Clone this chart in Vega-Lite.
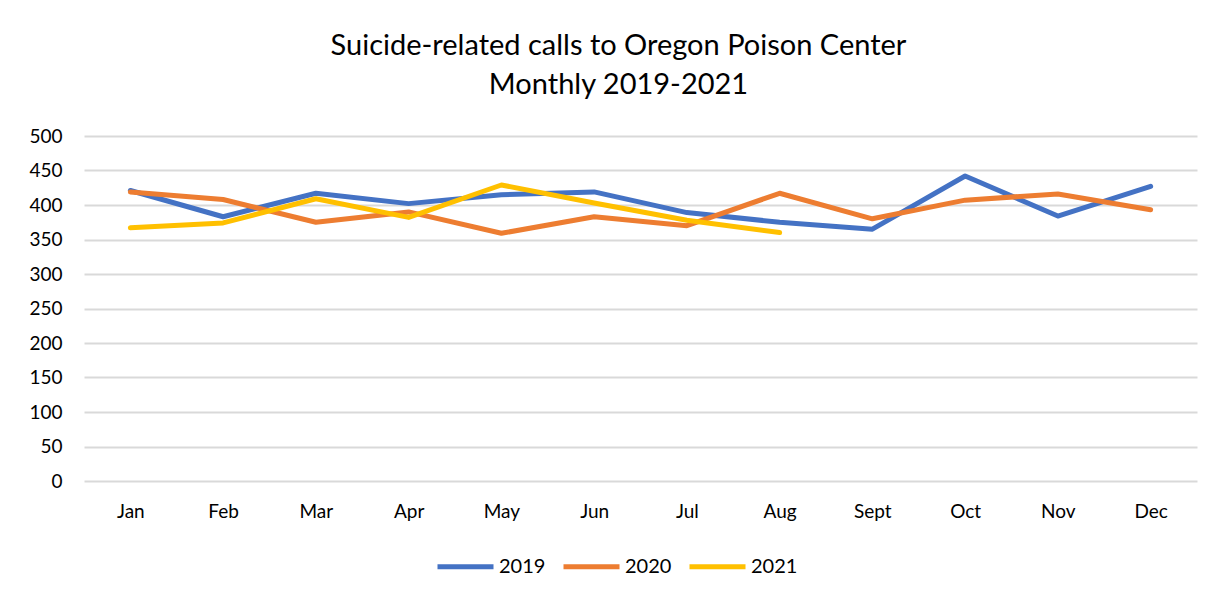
{
  "$schema": "https://vega.github.io/schema/vega-lite/v6.json",
  "autosize": {"type": "none"},
  "width": 1113,
  "height": 345,
  "padding": {"left": 84, "top": 136, "right": 21, "bottom": 118},
  "background": "white",
  "title": {
    "text": ["Suicide-related calls to Oregon Poison Center", "Monthly 2019-2021"],
    "font": "Lato",
    "fontSize": 29,
    "fontWeight": "normal",
    "color": "#000000",
    "lineHeight": 39,
    "anchor": "middle",
    "dx": -22,
    "offset": 27
  },
  "data": {
    "values": [
      {"month": "Jan", "year": "2019", "calls": 421},
      {"month": "Feb", "year": "2019", "calls": 383},
      {"month": "Mar", "year": "2019", "calls": 417},
      {"month": "Apr", "year": "2019", "calls": 402},
      {"month": "May", "year": "2019", "calls": 415},
      {"month": "Jun", "year": "2019", "calls": 419},
      {"month": "Jul", "year": "2019", "calls": 389},
      {"month": "Aug", "year": "2019", "calls": 375},
      {"month": "Sept", "year": "2019", "calls": 365},
      {"month": "Oct", "year": "2019", "calls": 442},
      {"month": "Nov", "year": "2019", "calls": 384},
      {"month": "Dec", "year": "2019", "calls": 427},
      {"month": "Jan", "year": "2020", "calls": 419},
      {"month": "Feb", "year": "2020", "calls": 408},
      {"month": "Mar", "year": "2020", "calls": 375},
      {"month": "Apr", "year": "2020", "calls": 390},
      {"month": "May", "year": "2020", "calls": 359},
      {"month": "Jun", "year": "2020", "calls": 383},
      {"month": "Jul", "year": "2020", "calls": 370},
      {"month": "Aug", "year": "2020", "calls": 417},
      {"month": "Sept", "year": "2020", "calls": 380},
      {"month": "Oct", "year": "2020", "calls": 407},
      {"month": "Nov", "year": "2020", "calls": 416},
      {"month": "Dec", "year": "2020", "calls": 393},
      {"month": "Jan", "year": "2021", "calls": 367},
      {"month": "Feb", "year": "2021", "calls": 374},
      {"month": "Mar", "year": "2021", "calls": 409},
      {"month": "Apr", "year": "2021", "calls": 382},
      {"month": "May", "year": "2021", "calls": 429},
      {"month": "Jun", "year": "2021", "calls": 403},
      {"month": "Jul", "year": "2021", "calls": 378},
      {"month": "Aug", "year": "2021", "calls": 360}
    ]
  },
  "mark": {"type": "line", "strokeWidth": 5, "strokeCap": "round", "strokeJoin": "round"},
  "encoding": {
    "x": {
      "field": "month",
      "type": "ordinal",
      "sort": ["Jan", "Feb", "Mar", "Apr", "May", "Jun", "Jul", "Aug", "Sept", "Oct", "Nov", "Dec"],
      "scale": {"type": "point", "padding": 0.5},
      "axis": {
        "title": null,
        "domain": false,
        "ticks": false,
        "grid": false,
        "labelAngle": 0,
        "labelFont": "Lato",
        "labelFontSize": 19,
        "labelColor": "#000000",
        "labelPadding": 21,
        "labelBaseline": "top"
      }
    },
    "y": {
      "field": "calls",
      "type": "quantitative",
      "scale": {"domain": [0, 500], "nice": false},
      "axis": {
        "title": null,
        "values": [0, 50, 100, 150, 200, 250, 300, 350, 400, 450, 500],
        "domain": false,
        "ticks": false,
        "grid": true,
        "gridColor": "#d9d9d9",
        "gridWidth": 2,
        "labelFont": "Lato",
        "labelFontSize": 19,
        "labelColor": "#000000",
        "labelPadding": 22
      }
    },
    "color": {
      "field": "year",
      "type": "nominal",
      "scale": {"domain": ["2019", "2020", "2021"], "range": ["#4472C4", "#ED7D31", "#FFC000"]},
      "legend": {
        "title": null,
        "orient": "none",
        "legendX": 351,
        "legendY": 400,
        "direction": "horizontal",
        "symbolType": "stroke",
        "symbolSize": 3136,
        "symbolStrokeWidth": 5,
        "labelFont": "Lato",
        "labelFontSize": 20,
        "labelColor": "#000000",
        "labelOffset": 3,
        "columnPadding": 7
      }
    }
  },
  "config": {"view": {"stroke": null}}
}
